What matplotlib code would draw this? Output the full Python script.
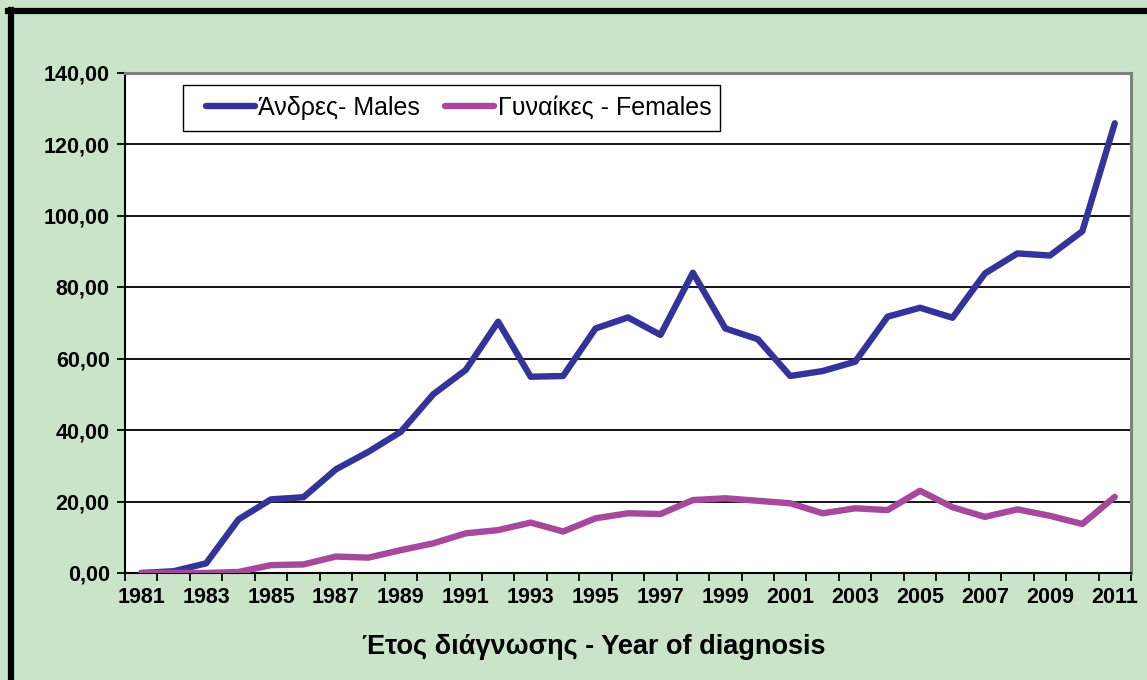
import matplotlib
matplotlib.use("Agg")
import matplotlib.pyplot as plt
from matplotlib.lines import Line2D
from matplotlib.patches import Rectangle

years = list(range(1981, 2012))
males = [0.0, 0.5, 2.7, 15.0, 20.6, 21.2, 29.0, 33.9, 39.5, 50.0, 56.8, 70.3,
         54.9, 55.1, 68.4, 71.5, 66.6, 84.0, 68.4, 65.4, 55.1, 56.5, 59.1,
         71.7, 74.2, 71.4, 83.8, 89.4, 88.8, 95.6, 125.8]
females = [0.0, 0.0, 0.0, 0.3, 2.2, 2.4, 4.6, 4.3, 6.4, 8.3, 11.1, 12.0,
           14.1, 11.6, 15.3, 16.7, 16.5, 20.4, 20.9, 20.2, 19.5, 16.7, 18.1,
           17.6, 23.0, 18.4, 15.7, 17.8, 16.0, 13.7, 21.3]
yticks = [0, 20, 40, 60, 80, 100, 120, 140]
series_labels = ["Άνδρες- Males", "Γυναίκες - Females"]
xlabel = "Έτος διάγνωσης - Year of diagnosis"

W, H = 1147, 680
green = "#c9e4c8"
plt.rcParams["font.family"] = ["Liberation Sans", "DejaVu Sans"]

fig = plt.figure(figsize=(W / 100, H / 100), dpi=100, facecolor=green)
L, R, T, B = 125, 1131, 72.5, 573
ax = fig.add_axes([L / W, 1 - B / H, (R - L) / W, (B - T) / H])
ax.set_facecolor("white")

x = list(range(len(years)))
ax.plot(x, males, color="#333399", lw=4.6, solid_capstyle="round",
        solid_joinstyle="round", label=series_labels[0], zorder=3)
ax.plot(x, females, color="#a6499c", lw=4.6, solid_capstyle="round",
        solid_joinstyle="round", label=series_labels[1], zorder=3)

ax.set_xlim(-0.5, len(years) - 0.5)
ax.set_ylim(0, 140)
ax.set_yticks(yticks)
ax.set_yticklabels([f"{v:.2f}".replace(".", ",") for v in yticks],
                   fontsize=15.5, fontweight="bold")
ax.yaxis.grid(True, color="black", lw=1.3)
ax.set_axisbelow(True)

ax.set_xticks(x[::2])
ax.set_xticklabels([str(y) for y in years[::2]], fontsize=15.5, fontweight="bold")
ax.set_xticks([i - 0.5 for i in range(len(years) + 1)], minor=True)
ax.tick_params(axis="x", which="major", length=0, pad=10)
ax.tick_params(axis="x", which="minor", length=6, width=1.3, direction="out")
ax.tick_params(axis="y", length=6, width=1.3, direction="out", pad=5)

for s in ["left", "bottom"]:
    ax.spines[s].set_color("black")
    ax.spines[s].set_linewidth(1.5)
for s in ["right", "top"]:
    ax.spines[s].set_color("#808080")
    ax.spines[s].set_linewidth(2.2)

# legend box
box = Rectangle((183 / W, 1 - 131 / H), (720 - 183) / W, 46 / H,
                transform=fig.transFigure, facecolor="white",
                edgecolor="black", lw=1.0, zorder=4, clip_on=False)
ax.add_patch(box)
leg = ax.legend(loc="center left", bbox_to_anchor=(206 / W, 1 - 108 / H),
                bbox_transform=fig.transFigure, ncol=2, frameon=False,
                fontsize=18, handlelength=1.95,
                handletextpad=0.15, columnspacing=1.0, borderpad=0,
                borderaxespad=0)
leg.set_zorder(5)

fig.text(594 / W, 1 - 647 / H, xlabel, ha="center", va="center",
         fontsize=19.5, fontweight="bold")

# outer border (left and top visible)
fig.add_artist(Line2D([10.5 / W, 10.5 / W], [0, 1 - 10 / H], color="black",
                      lw=4.5, transform=fig.transFigure))
fig.add_artist(Line2D([8 / W, 1], [1 - 10.5 / H, 1 - 10.5 / H], color="black",
                      lw=4.5, transform=fig.transFigure))

fig.savefig("out.png", dpi=100, facecolor=green)
